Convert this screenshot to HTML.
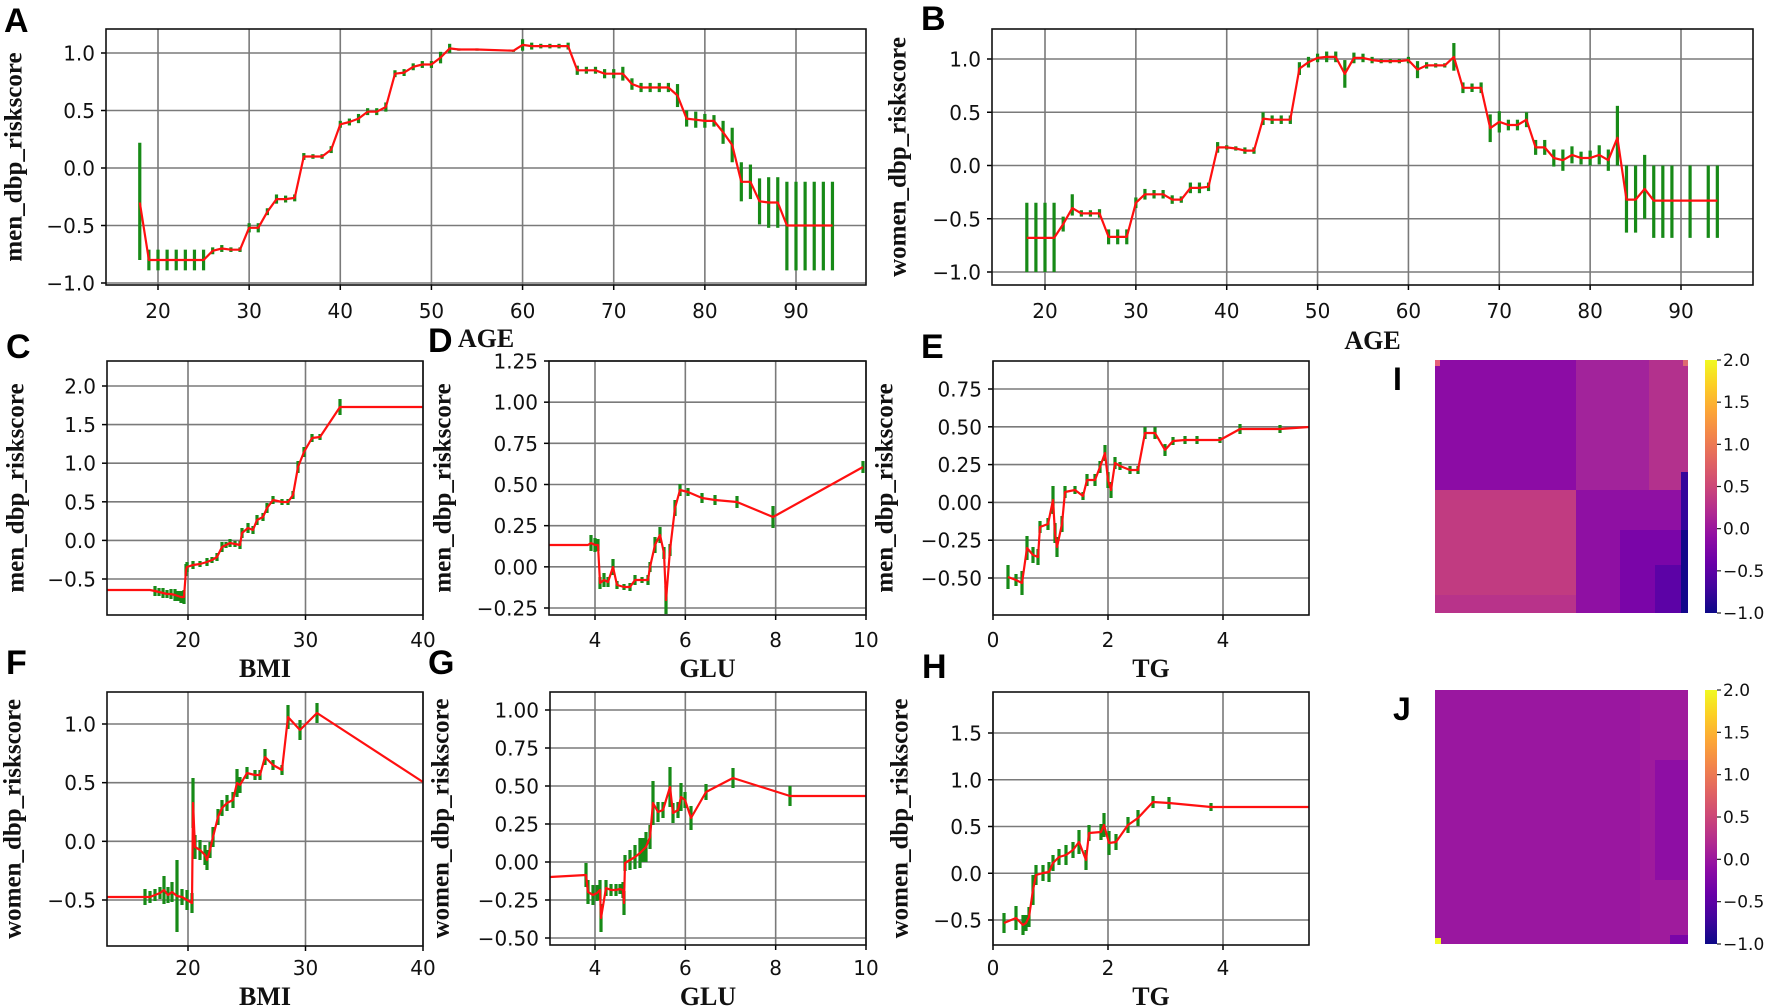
<!DOCTYPE html>
<html><head><meta charset="utf-8"><style>
html,body{margin:0;padding:0;background:#fff;}
svg{display:block;}
</style></head><body>
<svg id="s" xmlns="http://www.w3.org/2000/svg" width="1772" height="1008" viewBox="0 0 1772 1008">
<defs>
<linearGradient id="plasma" x1="0" y1="1" x2="0" y2="0">
<stop offset="0" stop-color="#0d0887"/><stop offset="0.1" stop-color="#41049d"/><stop offset="0.2" stop-color="#6a00a8"/><stop offset="0.3" stop-color="#8f0da4"/><stop offset="0.4" stop-color="#b12a90"/><stop offset="0.5" stop-color="#cc4778"/><stop offset="0.6" stop-color="#e16462"/><stop offset="0.7" stop-color="#f2844b"/><stop offset="0.8" stop-color="#fca636"/><stop offset="0.9" stop-color="#fcce25"/><stop offset="1" stop-color="#f0f921"/>
</linearGradient>
</defs>
</svg>
<script>
var S=document.getElementById('s'),NS='http://www.w3.org/2000/svg';
function el(t,a,txt){var e=document.createElementNS(NS,t);for(var k in a)e.setAttribute(k,a[k]);if(txt!==undefined)e.textContent=txt;S.appendChild(e);return e;}
function fmt(v,d){var s=Math.abs(v).toFixed(d);return (v<-1e-9?'\u2212':'')+s;}
function panel(p){
 var fx=function(v){return p.xa[1]+(v-p.xa[0])*(p.xa[3]-p.xa[1])/(p.xa[2]-p.xa[0]);};
 var fy=function(v){return p.ya[1]+(v-p.ya[0])*(p.ya[3]-p.ya[1])/(p.ya[2]-p.ya[0]);};
 p.xt.forEach(function(v){var x=fx(v);
  el('line',{x1:x,y1:p.T,x2:x,y2:p.B,stroke:'#7a7a7a','stroke-width':1.6});
  el('line',{x1:x,y1:p.B,x2:x,y2:p.B+5,stroke:'#000','stroke-width':1.5});
  el('text',{x:x,y:p.xb,'text-anchor':'middle','font-family':'DejaVu Sans, Liberation Sans, sans-serif','font-size':20,fill:'#111'},String(v));});
 p.yt.forEach(function(v){var y=fy(v);
  el('line',{x1:p.L,y1:y,x2:p.R,y2:y,stroke:'#7a7a7a','stroke-width':1.6});
  el('line',{x1:p.L-5,y1:y,x2:p.L,y2:y,stroke:'#000','stroke-width':1.5});
  el('text',{x:p.L-11,y:y+7.5,'text-anchor':'end','font-family':'DejaVu Sans, Liberation Sans, sans-serif','font-size':20,fill:'#111'},fmt(v,p.yd));});
 var pts=p.d.map(function(q){
  var x,y,lo=null,hi=null;
  if(p.px){x=q[0];y=q[1];if(q[2]){lo=y+q[2];hi=y-q[2];}}
  else{x=fx(q[0]);y=fy(q[1]);if(q[2]!==undefined){if(q[2] instanceof Array){hi=fy(q[2][0]);lo=fy(q[2][1]);}else{hi=fy(q[1]+q[2]);lo=fy(q[1]-q[2]);}}}
  return [x,y,lo,hi];});
 pts.forEach(function(q){if(q[2]!==null)el('line',{x1:q[0],y1:q[2],x2:q[0],y2:q[3],stroke:'#178a17','stroke-width':3.2});});
 el('polyline',{points:pts.map(function(q){return q[0].toFixed(1)+','+q[1].toFixed(1);}).join(' '),fill:'none',stroke:'#ff1010','stroke-width':2.2,'stroke-linejoin':'round'});
 el('rect',{x:p.L,y:p.T,width:p.R-p.L,height:p.B-p.T,fill:'none',stroke:'#111','stroke-width':1.6});
 el('text',{x:(p.L+p.R)/2,y:p.lb,'text-anchor':'middle','font-family':'Liberation Serif, serif','font-weight':'bold','font-size':26,fill:'#111'},p.xl);
 el('text',{x:0,y:0,transform:'translate('+p.yx+','+((p.T+p.B)/2)+') rotate(-90)','text-anchor':'middle','dominant-baseline':'central','font-family':'Liberation Serif, serif','font-weight':'bold','font-size':25,fill:'#111'},p.yl);
 el('text',{x:p.lx,y:p.ly,'font-family':'Liberation Sans, sans-serif','font-weight':'bold','font-size':34,fill:'#000'},p.lt);
}
function rng(a,b,s){var r=[];for(var v=a;v<=b+1e-9;v+=s)r.push(Math.round(v*100)/100);return r;}
// A
var A=[[18,-0.3,[0.22,-0.8]]];
for(var a=19;a<=25;a++)A.push([a,-0.8,0.09]);
A=A.concat([[26,-0.72,0.03],[27,-0.7,0.03],[28,-0.71,0.02],[29,-0.71,0.02],[30,-0.52,0.04],[31,-0.52,0.04],[32,-0.38,0.03],[33,-0.27,0.04],[34,-0.27,0.03],[35,-0.26,0.03],[36,0.1,0.03],[37,0.1,0.02],[38,0.1,0.02],[39,0.16,0.03],[40,0.38,0.03],[41,0.4,0.03],[42,0.43,0.04],[43,0.49,0.03],[44,0.49,0.03],[45,0.53,0.04],[46,0.82,0.03],[47,0.83,0.03],[48,0.88,0.03],[49,0.9,0.03],[50,0.9,0.03],[51,0.96,0.05],[52,1.04,0.04],[53,1.03,0.01],[55,1.03,0.01],[59,1.02,0.01],[60,1.07,0.05],[61,1.06,0.03],[62,1.06,0.02],[63,1.06,0.02],[64,1.06,0.02],[65,1.06,0.03],[66,0.85,0.04],[67,0.85,0.03],[68,0.85,0.03],[69,0.82,0.04],[70,0.82,0.04],[71,0.82,0.06],[72,0.73,0.05],[73,0.7,0.04],[74,0.7,0.04],[75,0.7,0.04],[76,0.7,0.04],[77,0.63,0.1],[78,0.43,0.07],[79,0.42,0.07],[80,0.41,0.06],[81,0.41,0.05],[82,0.31,0.1],[83,0.2,0.15],[84,-0.12,0.17],[85,-0.12,0.15],[86,-0.29,0.2],[87,-0.3,0.22],[88,-0.3,0.22]]);
for(a=89;a<=94;a++)A.push([a,-0.5,[-0.12,-0.89]]);
panel({L:106,R:866,T:29,B:285,xa:[20,158,90,796],ya:[1,53,-1,283],xt:rng(20,90,10),yt:rng(-1,1,0.5),yd:1,xb:318,lb:347,xl:'AGE',yl:'men_dbp_riskscore',yx:14,lt:'A',lx:4,ly:32,d:A});
// B
var Bd=[];for(a=18;a<=21;a++)Bd.push([a,-0.68,[-0.35,-1.0]]);
Bd=Bd.concat([[22,-0.55,0.07],[23,-0.4,[-0.27,-0.47]],[24,-0.45,0.03],[25,-0.45,0.03],[26,-0.45,0.04],[27,-0.67,0.07],[28,-0.67,0.07],[29,-0.67,0.07],[30,-0.35,0.05],[31,-0.27,0.05],[32,-0.27,0.04],[33,-0.27,0.04],[34,-0.32,0.04],[35,-0.32,0.03],[36,-0.21,0.05],[37,-0.21,0.05],[38,-0.2,0.04],[39,0.17,0.05],[40,0.17,0.02],[41,0.16,0.02],[42,0.14,0.03],[43,0.14,0.03],[44,0.44,0.06],[45,0.43,0.04],[46,0.43,0.04],[47,0.43,0.04],[48,0.91,0.06],[49,0.97,0.05],[50,1.01,0.04],[51,1.02,0.05],[52,1.02,0.05],[53,0.86,0.13],[54,1.01,0.05],[55,1.01,0.04],[56,0.99,0.03],[57,0.98,0.02],[58,0.98,0.02],[59,0.98,0.02],[60,0.99,0.03],[61,0.9,0.08],[62,0.94,0.03],[63,0.94,0.02],[64,0.94,0.02],[65,1.02,0.13],[66,0.73,0.05],[67,0.73,0.04],[68,0.73,0.05],[69,0.35,0.13],[70,0.41,0.1],[71,0.38,0.05],[72,0.38,0.05],[73,0.43,0.07],[74,0.17,0.07],[75,0.17,0.07],[76,0.07,0.08],[77,0.05,0.1],[78,0.1,0.08],[79,0.07,0.06],[80,0.07,0.07],[81,0.1,0.09],[82,0.05,0.1],[83,0.26,[0.56,0]],[84,-0.32,[0,-0.63]],[85,-0.32,[0,-0.63]],[86,-0.22,[0.1,-0.5]],[87,-0.33,[0,-0.68]],[88,-0.33,[0,-0.68]],[89,-0.33,[0,-0.68]],[91,-0.33,[0,-0.68]],[93,-0.33,[0,-0.68]],[94,-0.33,[0,-0.68]]]);
panel({L:992,R:1753,T:29,B:285,xa:[20,1045,90,1681],ya:[1,59,-1,272],xt:rng(20,90,10),yt:rng(-1,1,0.5),yd:1,xb:318,lb:349,xl:'AGE',yl:'women_dbp_riskscore',yx:898,lt:'B',lx:921,ly:30,d:Bd});
// C
var C=[[107,590],[150,590],[155,591,5],[159,592,4],[163,593,5],[167,594,4],[171,594,5],[175,595,6],[178,596,5],[181,597,6],[184,597,7],[186,570,6],[187,567,5],[193,565,4],[200,564,3],[207,562,4],[212,560,3],[217,557,4],[222,547,5],[226,545,3],[230,543,4],[235,544,3],[240,545,4],[242,533,5],[248,528,5],[253,530,4],[257,520,5],[263,517,4],[267,508,5],[273,500,4],[282,502,3],[288,502,3],[293,495,4],[298,467,6],[304,452,5],[312,438,4],[320,437,3],[340,407,8],[423,407]];
panel({px:1,L:107,R:423,T:361,B:615,xa:[20,188,40,423],ya:[2,386,-0.5,579],xt:[20,30,40],yt:rng(-0.5,2,0.5),yd:1,xb:647,lb:677,xl:'BMI',yl:'men_dbp_riskscore',yx:16,lt:'C',lx:6,ly:358,d:C});
// D
var D=[[549,545],[588,545],[591,543,8],[595,545,7],[598,545,6],[600,583,6],[604,580,7],[608,582,5],[613,567,8],[617,585,4],[624,587,3],[630,587,4],[635,580,5],[642,580,3],[648,580,5],[650,567,5],[655,545,8],[660,535,8],[664,553,6],[666,600,14],[670,550,6],[675,508,8],[680,490,6],[688,492,4],[702,498,5],[715,500,5],[737,502,6],[773,517,11],[863,467,6]];
panel({px:1,L:549,R:866,T:361,B:615,xa:[4,595,10,866],ya:[1.25,361,-0.25,608],xt:[4,6,8,10],yt:rng(-0.25,1.25,0.25),yd:2,xb:647,lb:677,xl:'GLU',yl:'men_dbp_riskscore',yx:443,lt:'D',lx:428,ly:352,d:D});
// E
var E=[[1008,577,12],[1016,580,6],[1022,583,12],[1027,548,12],[1033,555,8],[1038,557,8],[1040,527,6],[1048,524,6],[1053,500,14],[1055,533,10],[1057,547,10],[1062,524,8],[1065,492,6],[1075,490,4],[1083,496,4],[1087,480,6],[1095,480,6],[1100,467,6],[1105,453,8],[1108,480,8],[1111,490,8],[1115,463,6],[1120,466,4],[1130,470,4],[1138,470,4],[1145,433,6],[1155,433,6],[1165,450,6],[1173,441,4],[1185,440,4],[1197,440,4],[1220,440,3],[1240,429,5],[1280,429,4],[1309,427]];
panel({px:1,L:993,R:1309,T:361,B:615,xa:[0,993,4,1223],ya:[0.75,389,-0.5,578],xt:[0,2,4],yt:rng(-0.5,0.75,0.25),yd:2,xb:647,lb:677,xl:'TG',yl:'men_dbp_riskscore',yx:885,lt:'E',lx:921,ly:358,d:E});
// F
var F=[[107,897],[143,897],[145,897,8],[150,897,6],[155,895,6],[160,893,6],[164,890,14],[168,895,8],[172,892,10],[177,896,36],[182,897,8],[187,900,10],[192,903,10],[193,803,25],[195,847,12],[200,850,10],[205,855,10],[207,860,10],[210,850,8],[213,837,10],[218,817,8],[222,808,8],[227,803,8],[233,800,8],[237,783,14],[240,785,8],[247,773,6],[255,775,5],[260,775,5],[265,757,8],[273,765,5],[282,770,5],[288,717,12],[300,730,10],[317,713,10],[423,782]];
panel({px:1,L:107,R:423,T:692,B:946,xa:[20,188,40,423],ya:[1,724,-0.5,900],xt:[20,30,40],yt:rng(-0.5,1,0.5),yd:1,xb:975,lb:1005,xl:'BMI',yl:'women_dbp_riskscore',yx:13,lt:'F',lx:6,ly:674,d:F});
// G
var G=[[550,877],[586,875,12],[588,892,12],[593,895,10],[597,893,8],[600,890,10],[601,918,14],[606,888,8],[611,890,6],[616,890,6],[620,889,5],[623,890,8],[624,903,12],[625,863,8],[630,860,10],[635,857,12],[640,853,15],[643,850,12],[646,847,15],[650,837,12],[653,803,22],[658,812,10],[663,810,8],[670,787,20],[673,813,10],[678,810,8],[681,797,14],[685,800,8],[691,818,12],[706,792,8],[733,778,10],[790,796,10],[866,796]];
panel({px:1,L:550,R:866,T:692,B:945,xa:[4,595,10,866],ya:[1,710,-0.5,938],xt:[4,6,8,10],yt:rng(-0.5,1,0.25),yd:2,xb:975,lb:1005,xl:'GLU',yl:'women_dbp_riskscore',yx:441,lt:'G',lx:428,ly:674,d:G});
// H
var H=[[1004,923,10],[1016,918,12],[1023,925,10],[1026,923,8],[1029,917,10],[1033,890,15],[1036,875,10],[1043,873,8],[1049,872,10],[1053,863,8],[1059,857,8],[1066,855,10],[1073,850,8],[1079,842,12],[1086,860,10],[1089,833,8],[1101,832,8],[1104,825,12],[1109,843,12],[1116,842,8],[1128,825,8],[1138,818,8],[1153,802,6],[1169,803,6],[1211,807,4],[1309,807]];
panel({px:1,L:993,R:1309,T:692,B:945,xa:[0,993,4,1223],ya:[1.5,733,-0.5,920],xt:[0,2,4],yt:rng(-0.5,1.5,0.5),yd:1,xb:975,lb:1005,xl:'TG',yl:'women_dbp_riskscore',yx:900,lt:'H',lx:922,ly:678,d:H});
// heatmaps
function r(x,y,w,h,c){el('rect',{x:x,y:y,width:w,height:h,fill:c});}
r(1435,360,141,130,'#8c0ca5');r(1576,360,73,130,'#a2239b');r(1649,360,39,130,'#b3318d');
r(1435,490,141,123,'#c13b81');r(1435,595,141,18,'#b8338a');
r(1576,490,112,123,'#8f10a3');r(1620,530,62,83,'#7a05a8');r(1655,565,27,48,'#5c02a6');
r(1681,472,7,141,'#35049b');r(1681,530,7,83,'#12078a');
r(1435,360,5,6,'#e5607a');r(1683,360,5,6,'#de6a70');
r(1435,690,253,254,'#9a17a0');r(1640,690,48,254,'#9f1b9d');r(1655,760,33,120,'#8e0ea4');
r(1435,938,6,6,'#f0f921');r(1670,935,18,9,'#7a05a8');
function cbar(T,B){el('rect',{x:1705,y:T,width:12,height:B-T,fill:'url(#plasma)'});
 [2,1.5,1,0.5,0,-0.5,-1].forEach(function(v){var y=T+(2-v)/3*(B-T);
  el('line',{x1:1717,y1:y,x2:1721,y2:y,stroke:'#222','stroke-width':1.2});
  el('text',{x:1723,y:y+6,'font-family':'DejaVu Sans, Liberation Sans, sans-serif','font-size':17,fill:'#111'},fmt(v,1));});}
cbar(360,613);cbar(690,944);
el('text',{x:1393,y:390,'font-family':'Liberation Sans, sans-serif','font-weight':'bold','font-size':32,fill:'#000'},'I');
el('text',{x:1393,y:720,'font-family':'Liberation Sans, sans-serif','font-weight':'bold','font-size':32,fill:'#000'},'J');
</script>
</body></html>
